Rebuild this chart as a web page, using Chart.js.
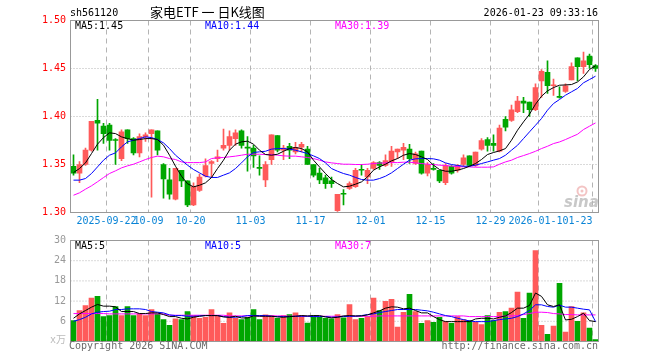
<!DOCTYPE html>
<html><head><meta charset="utf-8">
<script src="https://cdn.jsdelivr.net/npm/chart.js@4"></script>
<style>
html,body{margin:0;padding:0;background:#fff;width:660px;height:360px;overflow:hidden}
.box{position:absolute;left:0;width:660px}
</style></head><body>
<div class="box" style="top:0;height:232px"><canvas id="c1" width="660" height="232"></canvas></div>
<div class="box" style="top:232px;height:128px"><canvas id="c2" width="660" height="128"></canvas></div>
<script>
// ---------- data ----------
const dates = [
 '2025-09-12','2025-09-15','2025-09-16','2025-09-17','2025-09-18','2025-09-19','2025-09-22','2025-09-23','2025-09-24','2025-09-25','2025-09-26','2025-09-29','2025-09-30',
 '2025-10-09','2025-10-10','2025-10-13','2025-10-14','2025-10-15','2025-10-16','2025-10-17','2025-10-20','2025-10-21','2025-10-22','2025-10-23','2025-10-24','2025-10-27','2025-10-28','2025-10-29','2025-10-30','2025-10-31',
 '2025-11-03','2025-11-04','2025-11-05','2025-11-06','2025-11-07','2025-11-10','2025-11-11','2025-11-12','2025-11-13','2025-11-14','2025-11-17','2025-11-18','2025-11-19','2025-11-20','2025-11-21','2025-11-24','2025-11-25','2025-11-26','2025-11-27','2025-11-28',
 '2025-12-01','2025-12-02','2025-12-03','2025-12-04','2025-12-05','2025-12-08','2025-12-09','2025-12-10','2025-12-11','2025-12-12','2025-12-15','2025-12-16','2025-12-17','2025-12-18','2025-12-19','2025-12-22','2025-12-23','2025-12-24','2025-12-25','2025-12-26','2025-12-29','2025-12-30','2025-12-31',
 '2026-01-05','2026-01-06','2026-01-07','2026-01-08','2026-01-09','2026-01-12','2026-01-13','2026-01-14','2026-01-15','2026-01-16','2026-01-19','2026-01-20','2026-01-21','2026-01-22','2026-01-23'
];
const openP = [1.348,1.341,1.350,1.365,1.396,1.390,1.391,1.376,1.356,1.386,1.377,1.362,1.379,1.382,1.385,1.350,1.334,1.314,1.344,1.333,1.308,1.323,1.338,1.351,1.356,1.367,1.370,1.377,1.385,1.368,1.367,1.347,1.334,1.355,1.380,1.365,1.369,1.363,1.368,1.366,1.350,1.341,1.336,1.333,1.302,1.320,1.325,1.327,1.345,1.337,1.346,1.352,1.349,1.353,1.363,1.365,1.366,1.351,1.364,1.341,1.346,1.344,1.331,1.348,1.344,1.350,1.359,1.349,1.366,1.376,1.372,1.364,1.397,1.396,1.405,1.416,1.415,1.407,1.437,1.446,1.432,1.421,1.426,1.438,1.461,1.452,1.463,1.453];
const highP = [1.360,1.353,1.367,1.395,1.418,1.393,1.393,1.377,1.386,1.386,1.378,1.382,1.383,1.386,1.385,1.351,1.346,1.346,1.344,1.333,1.331,1.340,1.356,1.354,1.365,1.387,1.385,1.386,1.386,1.379,1.370,1.359,1.353,1.381,1.380,1.370,1.372,1.373,1.373,1.369,1.350,1.346,1.339,1.337,1.319,1.324,1.332,1.346,1.350,1.346,1.353,1.353,1.360,1.369,1.366,1.372,1.371,1.363,1.364,1.352,1.351,1.344,1.351,1.349,1.350,1.360,1.359,1.363,1.377,1.378,1.381,1.391,1.400,1.412,1.421,1.420,1.415,1.434,1.449,1.458,1.439,1.431,1.434,1.456,1.461,1.467,1.465,1.454];
const lowP = [1.339,1.331,1.349,1.364,1.365,1.372,1.365,1.350,1.354,1.372,1.360,1.358,1.374,1.316,1.360,1.315,1.314,1.313,1.327,1.306,1.307,1.322,1.337,1.337,1.353,1.365,1.365,1.370,1.367,1.343,1.347,1.339,1.327,1.350,1.363,1.355,1.356,1.361,1.363,1.350,1.337,1.330,1.325,1.326,1.301,1.308,1.324,1.326,1.339,1.330,1.345,1.345,1.348,1.348,1.356,1.355,1.351,1.350,1.340,1.338,1.344,1.331,1.329,1.340,1.342,1.348,1.348,1.348,1.365,1.364,1.364,1.363,1.385,1.395,1.404,1.404,1.400,1.406,1.420,1.424,1.422,1.419,1.425,1.438,1.437,1.445,1.450,1.447];
const closeP = [1.341,1.350,1.365,1.395,1.393,1.382,1.375,1.375,1.384,1.377,1.362,1.379,1.381,1.386,1.365,1.335,1.319,1.346,1.333,1.308,1.327,1.337,1.349,1.353,1.358,1.370,1.379,1.383,1.370,1.367,1.359,1.346,1.350,1.381,1.365,1.367,1.365,1.368,1.371,1.350,1.339,1.334,1.330,1.330,1.319,1.319,1.330,1.344,1.344,1.344,1.352,1.349,1.354,1.364,1.366,1.368,1.356,1.361,1.341,1.350,1.345,1.333,1.349,1.341,1.349,1.357,1.349,1.363,1.375,1.370,1.370,1.388,1.389,1.407,1.416,1.414,1.407,1.430,1.447,1.432,1.433,1.420,1.432,1.452,1.452,1.458,1.454,1.450];
const ma5 = [1.3416,1.3458,1.3517,1.3614,1.3712,1.378,1.383,1.3822,1.3788,1.377,1.3753,1.376,1.377,1.377,1.376,1.3701,1.3597,1.3482,1.3378,1.330,1.3267,1.3284,1.3309,1.3364,1.3458,1.3545,1.3649,1.3712,1.3736,1.3743,1.3712,1.3649,1.3604,1.3597,1.3607,1.3638,1.3666,1.3677,1.3666,1.3632,1.3545,1.3475,1.3406,1.3344,1.3302,1.3267,1.3274,1.3295,1.3319,1.3371,1.3441,1.3475,1.3503,1.3538,1.3562,1.3597,1.3614,1.3604,1.358,1.3552,1.3493,1.3448,1.343,1.343,1.3441,1.3458,1.3482,1.351,1.3552,1.3604,1.3625,1.3642,1.3666,1.3753,1.3857,1.3944,1.4024,1.4128,1.4211,1.4267,1.4301,1.4326,1.4329,1.4333,1.436,1.4413,1.449,1.4528];
const ma10 = [1.3337,1.3337,1.3354,1.3406,1.3475,1.3545,1.3597,1.3621,1.3684,1.3736,1.3753,1.377,1.3788,1.378,1.376,1.3725,1.3666,1.3597,1.3545,1.3493,1.3448,1.3413,1.3378,1.3365,1.3365,1.3389,1.3413,1.3458,1.3517,1.358,1.3625,1.3632,1.3638,1.366,1.3666,1.3666,1.366,1.3649,1.3632,1.3614,1.359,1.3562,1.3517,1.3458,1.343,1.3406,1.3389,1.3365,1.3344,1.3337,1.3337,1.3354,1.3378,1.3413,1.3458,1.3503,1.3545,1.3559,1.3562,1.3562,1.3559,1.3545,1.3517,1.350,1.349,1.3482,1.3482,1.3493,1.351,1.3527,1.3545,1.3562,1.3597,1.3649,1.370,1.377,1.384,1.3909,1.3979,1.4066,1.4135,1.4177,1.4222,1.4257,1.4292,1.4351,1.4385,1.442];
const ma30 = [1.318,1.3205,1.3243,1.3278,1.332,1.3364,1.3406,1.3434,1.3465,1.3486,1.3503,1.3527,1.3552,1.3573,1.3587,1.358,1.3562,1.3552,1.3527,1.352,1.352,1.352,1.3527,1.3562,1.357,1.3573,1.358,1.3587,1.3597,1.3607,1.3607,1.3607,1.3604,1.3604,1.3597,1.359,1.3587,1.3587,1.358,1.3573,1.3562,1.3545,1.3527,1.3517,1.351,1.3503,1.3503,1.350,1.350,1.3503,1.351,1.3514,1.3517,1.352,1.352,1.3524,1.3524,1.3517,1.351,1.3503,1.350,1.3493,1.349,1.3482,1.3479,1.3475,1.3475,1.3472,1.3472,1.3472,1.3475,1.3503,1.3527,1.3545,1.3573,1.3593,1.3614,1.3638,1.3666,1.369,1.3718,1.3735,1.376,1.3788,1.3815,1.3864,1.3899,1.3933];
const volume = [6.2,9.2,10.7,12.9,13.4,7.4,7.7,10.4,7.7,10.4,7.7,8.2,7.7,9.5,8.2,6.5,4.8,6.7,6.5,8.9,7.7,6.9,7.2,9.5,7.7,5.4,8.5,6.9,6.5,7.2,9.5,6.5,7.9,7.7,6.9,7.7,8.0,8.5,7.7,5.5,7.7,7.2,6.9,6.7,8.0,7.0,11.0,6.5,6.9,7.4,12.9,9.2,11.9,12.5,4.3,8.7,14.0,8.9,5.4,6.2,5.7,7.2,5.9,5.4,7.4,6.5,6.2,5.7,5.0,7.7,6.2,8.7,8.9,9.9,14.7,6.9,14.4,27.0,4.8,2.1,4.6,17.3,2.8,10.4,6.0,8.5,4.0,0.6];
const volMa5 = [6.9,8.2,9.2,10.2,11.0,10.5,10.5,10.3,8.9,8.9,8.9,8.3,8.3,8.5,8.5,8.0,7.4,7.4,6.9,6.7,7.2,7.5,7.7,7.7,7.7,7.3,7.2,7.5,7.0,7.0,7.6,7.5,7.5,7.5,7.3,7.2,7.4,7.5,7.7,7.6,7.7,7.7,7.3,7.0,7.2,7.6,7.7,7.6,7.6,7.9,8.5,9.1,9.9,10.3,10.2,9.7,9.9,9.2,8.5,8.5,7.4,6.5,5.9,5.9,5.9,5.9,5.9,6.7,6.9,6.9,6.7,7.2,7.6,8.6,9.9,9.9,10.7,14.4,13.4,10.9,10.4,10.9,6.4,6.6,7.4,8.4,6.2,5.9];
const volMa10 = [6.0,6.5,7.2,8.2,8.7,8.9,9.0,9.5,9.5,9.7,9.7,9.7,9.5,8.9,8.7,8.5,7.9,7.7,7.7,7.5,7.5,7.6,7.7,7.7,7.7,7.4,7.2,7.2,7.4,7.7,7.7,7.7,7.7,7.5,7.4,7.4,7.4,7.5,7.5,7.5,7.4,7.4,7.4,7.2,7.3,7.4,7.5,7.5,7.7,8.0,8.2,8.6,8.9,9.2,9.5,9.5,9.5,9.5,9.3,9.1,8.7,8.2,7.7,7.4,6.9,6.5,6.1,5.9,5.9,5.9,6.2,6.5,6.7,6.9,7.4,8.2,9.2,10.9,10.9,10.4,10.2,10.8,10.2,10.2,9.9,9.6,9.4,5.9];
const volMa30 = [8.3,8.3,8.3,8.3,8.3,8.3,8.2,8.2,8.2,8.2,8.2,8.2,8.2,8.2,8.2,8.2,7.8,7.8,7.8,7.8,7.8,7.8,7.8,7.8,7.8,7.8,7.6,7.6,7.6,7.6,7.6,7.6,7.6,7.6,7.6,7.6,7.5,7.5,7.5,7.5,7.5,7.5,7.5,7.5,7.5,7.5,7.5,7.5,7.5,7.5,7.5,7.6,7.6,7.6,7.6,7.6,7.6,7.6,7.6,7.6,7.6,7.6,7.6,7.6,7.6,7.6,7.4,7.4,7.4,7.4,7.4,7.4,7.6,7.6,7.7,8.0,8.3,8.7,8.7,8.6,8.3,8.2,8.0,8.0,7.9,7.9,7.9,7.9];
const priceTicks = [1.30,1.35,1.40,1.45,1.50];
const volTicks = [6,12,18,24,30];
const dateTickIdx = [6,13,20,30,40,50,60,70,78,87];
const dateTickText = ['2025-09-22','10-09','10-20','11-03','11-17','12-01','12-15','12-29','2026-01-12','01-23'];
const volLegendVals = ['5','5','7'];

// ---------- style ----------
const RED = '#ff5a5a', GREEN = '#00a600';
const MONO = '10px "DejaVu Sans Mono", "Liberation Mono", monospace';
const upDown = dates.map((d,i)=> closeP[i] > openP[i] ? RED : GREEN);

function txt(ctx, s, x, y, color, align, font){
  ctx.save(); ctx.font = font || MONO; ctx.fillStyle = color;
  ctx.textAlign = align || 'left'; ctx.textBaseline = 'middle';
  ctx.fillText(s, x, y); ctx.restore();
}
function drawGrid(chart, hTicks, yMin, yMax){
  const {ctx, chartArea:a, scales:{x, y}} = chart;
  const half = (x.getPixelForValue(1) - x.getPixelForValue(0)) / 2;
  ctx.save();
  ctx.strokeStyle = '#b4b4b4'; ctx.lineWidth = 1;
  ctx.setLineDash([1,2]);
  hTicks.forEach(v => {
    if (v > yMin && v < yMax) {
      const py = y.getPixelForValue(v);
      ctx.beginPath(); ctx.moveTo(a.left, py); ctx.lineTo(a.right, py); ctx.stroke();
    }
  });
  ctx.setLineDash([5,4]);
  dateTickIdx.forEach(i => {
    const px = x.getPixelForValue(i) - half;
    ctx.beginPath(); ctx.moveTo(px, a.top); ctx.lineTo(px, a.bottom); ctx.stroke();
  });
  ctx.restore();
}
function drawBorder(chart){
  const {ctx, chartArea:a} = chart;
  ctx.save(); ctx.strokeStyle = '#999'; ctx.lineWidth = 1;
  ctx.strokeRect(a.left, a.top, a.right - a.left, a.bottom - a.top);
  ctx.restore();
}

const mainDecor = {
  id: 'mainDecor',
  beforeDatasetsDraw(chart){
    const {ctx} = chart;
    // watermark
    ctx.save();
    ctx.strokeStyle = '#f3c4c4'; ctx.lineWidth = 2;
    ctx.beginPath(); ctx.arc(582, 191, 4.5, 0, Math.PI*2); ctx.stroke();
    ctx.fillStyle = '#f3c4c4';
    ctx.beginPath(); ctx.arc(582, 191, 1.5, 0, Math.PI*2); ctx.fill();
    ctx.font = 'italic bold 15px "DejaVu Sans", sans-serif';
    ctx.fillStyle = '#c8c8c8'; ctx.textBaseline = 'alphabetic';
    ctx.fillText('sina', 564, 207);
    ctx.restore();
    drawGrid(chart, priceTicks, 1.30, 1.50);
  },
  afterDraw(chart){
    const {ctx, chartArea:a, scales:{x, y}} = chart;
    drawBorder(chart);
    txt(ctx, 'sh561120', 70, 13, '#000');
    txt(ctx, '家电ETF 一 日K线图', 150, 12, '#000', 'left', '13px "Noto Sans CJK SC", sans-serif');
    txt(ctx, '2026-01-23 09:33:16', 598, 13, '#000', 'right');
    priceTicks.forEach(v => txt(ctx, v.toFixed(2), 66, y.getPixelForValue(v), '#ff0000', 'right'));
    txt(ctx, 'MA5:' + ma5[ma5.length-1].toFixed(2), 75, 26, '#000');
    txt(ctx, 'MA10:' + ma10[ma10.length-1].toFixed(2), 205, 26, '#0000ff');
    txt(ctx, 'MA30:' + ma30[ma30.length-1].toFixed(2), 335, 26, '#ff00ff');
    const half = (x.getPixelForValue(1) - x.getPixelForValue(0)) / 2;
    ctx.save(); ctx.font = MONO;
    dateTickIdx.forEach((idx, j) => {
      const px = x.getPixelForValue(idx) - half;
      const s = dateTickText[j];
      const w = ctx.measureText(s).width;
      let left = px - w/2;
      if (j === dateTickIdx.length - 1) {
        left = px - w;
        ctx.fillStyle = '#fff'; ctx.fillRect(left, 215, w, 12);
      }
      txt(ctx, s, left, 221, '#0a84d6', 'left');
    });
    ctx.restore();
  }
};

const volDecor = {
  id: 'volDecor',
  beforeDatasetsDraw(chart){ drawGrid(chart, volTicks, 0, 30); },
  afterDraw(chart){
    const {ctx, scales:{y}} = chart;
    drawBorder(chart);
    volTicks.forEach(v => txt(ctx, String(v), 66, y.getPixelForValue(v), '#999', 'right'));
    txt(ctx, 'x万', 66, y.getPixelForValue(0) - 1, '#bbb', 'right', '10px "DejaVu Sans Mono", "Noto Sans CJK SC", monospace');
    txt(ctx, 'MA5:' + volLegendVals[0], 75, 14.5, '#000');
    txt(ctx, 'MA10:' + volLegendVals[1], 205, 14.5, '#0000ff');
    txt(ctx, 'MA30:' + volLegendVals[2], 335, 14.5, '#ff00ff');
    txt(ctx, 'Copyright 2026 SINA.COM', 69, 114, '#6a6a6a');
    txt(ctx, 'http://finance.sina.com.cn', 598, 114, '#6a6a6a', 'right');
  }
};

function lineDs(data, color){
  return {type:'line', data, borderColor:color, borderWidth:1, pointRadius:0, fill:false, tension:0, order:0};
}
const common = (pad, yMin, yMax) => ({
  responsive:false, animation:false, events:[],
  layout:{padding:pad},
  plugins:{legend:{display:false}, tooltip:{enabled:false}},
  scales:{
    x:{type:'category', display:false, offset:true},
    y:{display:false, min:yMin, max:yMax}
  }
});

new Chart(document.getElementById('c1'), {
  type:'bar',
  data:{
    labels: dates,
    datasets:[
      lineDs(ma5, '#000000'),
      lineDs(ma10, '#0000ff'),
      lineDs(ma30, '#ff00ff'),
      {type:'bar', data: dates.map((d,i)=>[openP[i], closeP[i]]), backgroundColor: upDown, barThickness:5, grouped:false, minBarLength:1, order:1},
      {type:'bar', data: dates.map((d,i)=>[lowP[i], highP[i]]), backgroundColor: upDown, barThickness:1, grouped:false, order:2}
    ]
  },
  options: common({left:70.5, right:61.5, top:20.5, bottom:19.5}, 1.30, 1.50),
  plugins:[mainDecor]
});

new Chart(document.getElementById('c2'), {
  type:'bar',
  data:{
    labels: dates,
    datasets:[
      lineDs(volMa5, '#000000'),
      lineDs(volMa10, '#0000ff'),
      lineDs(volMa30, '#ff00ff'),
      {type:'bar', data: volume, backgroundColor: upDown, barThickness:5, grouped:false, order:1}
    ]
  },
  options: common({left:70.5, right:61.5, top:8.5, bottom:18.5}, 0, 30),
  plugins:[volDecor]
});
</script>
</body></html>
